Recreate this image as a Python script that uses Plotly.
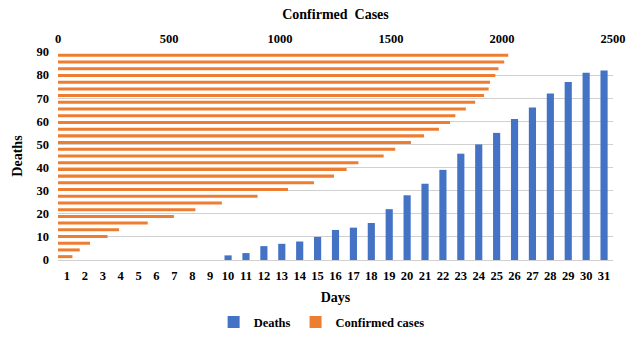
import plotly.graph_objects as go

days = [str(d) for d in range(1, 32)]
deaths = [0, 0, 0, 0, 0, 0, 0, 0, 0, 2, 3, 6, 7, 8, 10, 13, 14, 16, 22, 28,
          33, 39, 46, 50, 55, 61, 66, 72, 77, 81, 82]
confirmed = [65, 98, 144, 223, 275, 404, 522, 619, 738, 899, 1036, 1153, 1243,
             1300, 1353, 1467, 1519, 1590, 1649, 1716, 1766, 1790, 1837, 1879,
             1919, 1940, 1946, 1970, 1984, 2010, 2028]

BLUE = "#4472C4"
ORANGE = "#ED7D31"
FONT = "Liberation Serif"
tickfont = dict(family=FONT, size=12.5, color="#000000", weight="bold")
titlefont = dict(family=FONT, size=14, color="#000000", weight="bold")

fig = go.Figure()
fig.add_trace(go.Bar(x=days, y=deaths, name="Deaths", marker_color=BLUE,
                     width=0.4, xaxis="x", yaxis="y"))
fig.add_trace(go.Bar(x=confirmed, y=days, name="Confirmed cases", orientation="h",
                     marker_color=ORANGE, width=0.45, xaxis="x2", yaxis="y2"))

fig.update_layout(
    template="none",
    width=637, height=348,
    margin=dict(l=58, r=24, t=52, b=88, autoexpand=False),
    paper_bgcolor="white", plot_bgcolor="rgba(0,0,0,0)",
    font=dict(family=FONT, color="#000000"),
    showlegend=True,
    legend=dict(orientation="h", x=0.475, xanchor="center", y=-0.30, yanchor="middle",
                font=dict(family=FONT, size=12.5, color="#000000", weight="bold"),
                traceorder="normal", itemwidth=30),
    xaxis=dict(type="category", categoryorder="array", categoryarray=days,
               range=[-0.5, 30.5], showgrid=False, zeroline=False, showline=False,
               tickfont=tickfont, ticks="", ticklabelstandoff=6, automargin=False,
               title=dict(text="Days", font=titlefont, standoff=10)),
    yaxis=dict(range=[0, 90], tickmode="linear", tick0=0, dtick=10,
               showgrid=True, gridcolor="#D0D0D0", gridwidth=1,
               zeroline=True, zerolinecolor="#D0D0D0", zerolinewidth=1,
               showline=False, tickfont=tickfont, ticks="",
               ticklabelstandoff=8, automargin=False,
               title=dict(text="Deaths", font=titlefont, standoff=10)),
    xaxis2=dict(overlaying="x", side="top", anchor="y2", range=[0, 2500], dtick=500,
                showgrid=False, zeroline=False, showline=False, tickfont=tickfont, ticks="",
                ticklabelstandoff=6, automargin=False,
                title=dict(text="Confirmed  Cases", font=titlefont, standoff=8)),
    yaxis2=dict(overlaying="y", anchor="x2", type="category", categoryorder="array",
                categoryarray=days, range=[-0.5, 30.5], showgrid=False, zeroline=False,
                showticklabels=False, ticks="", showline=False),
)

fig.write_html("out.html", config={"displayModeBar": False},
               post_script="document.body.style.margin='0';")
